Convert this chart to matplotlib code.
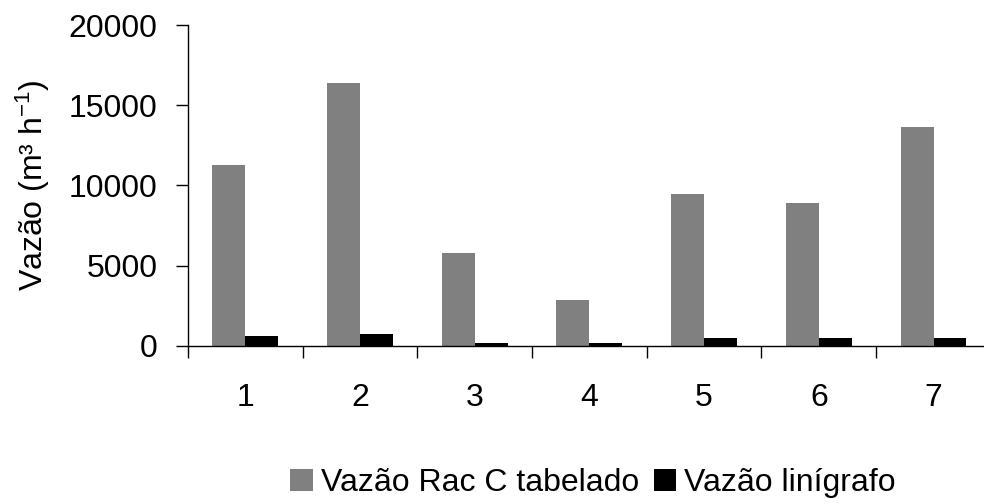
"""
Vazão Rac C tabelado x Vazão linígrafo por evento.
Gera out.png (984x504).
"""

import matplotlib
matplotlib.use("Agg")
import matplotlib.pyplot as plt
import numpy as np


# ============================================================
# DADOS
# ============================================================

EVENTOS = ["1", "2", "3", "4", "5", "6", "7"]

VAZAO_RAC_C = [11300, 16400, 5800, 2850, 9450, 8900, 13650]

VAZAO_LINIGRAFO = [620, 760, 190, 190, 470, 470, 470]

Y_TICKS = [0, 5000, 10000, 15000, 20000]


# ============================================================
# CONFIGURAÇÃO
# ============================================================

TAMANHO = 23

plt.rcParams["font.family"] = ["Liberation Sans", "DejaVu Sans"]
plt.rcParams["mathtext.fontset"] = "custom"
plt.rcParams["mathtext.rm"] = "Liberation Sans"
plt.rcParams["mathtext.it"] = "Liberation Sans:italic"
plt.rcParams["font.size"] = TAMANHO


def main() -> None:

    fig = plt.figure(figsize=(9.84, 5.04), dpi=100)

    ax = fig.add_axes([0.191, 0.314, 0.816, 0.636])

    x = np.arange(len(EVENTOS))
    largura = 0.287

    ax.bar(x - largura / 2, VAZAO_RAC_C, largura,
           color="#808080", label="Vazão Rac C tabelado")
    ax.bar(x + largura / 2, VAZAO_LINIGRAFO, largura,
           color="#000000", label="Vazão linígrafo")

    ax.set_xlim(-0.5, len(EVENTOS) - 0.5)
    ax.set_ylim(0, 20000)

    # eixo y
    ax.set_yticks(Y_TICKS)
    ax.tick_params(axis="y", direction="out", length=9, width=1,
                   pad=13, labelsize=TAMANHO)

    # eixo x: marcas entre categorias, rótulos no centro
    ax.set_xticks(np.arange(len(EVENTOS) + 1) - 0.5)
    ax.set_xticklabels([])
    ax.set_xticks(x, minor=True)
    ax.set_xticklabels(EVENTOS, minor=True)
    ax.tick_params(axis="x", which="major", direction="out",
                   length=8.5, width=1)
    ax.tick_params(axis="x", which="minor", length=0, pad=27,
                   labelsize=TAMANHO)

    for lado in ["top", "right"]:
        ax.spines[lado].set_visible(False)
    ax.spines["left"].set_linewidth(1)
    ax.spines["bottom"].set_linewidth(1)

    ax.set_ylabel("Vazão (m³ h$^{-1}$)", fontsize=TAMANHO)
    ax.yaxis.set_label_coords(-0.169, 0.5)

    fig.legend(loc="center", bbox_to_anchor=(593 / 984, 1 - 483 / 504),
               ncol=2, frameon=False, fontsize=TAMANHO,
               handlelength=0.7, handleheight=0.7, handletextpad=0.25,
               columnspacing=0.47, borderpad=0)

    fig.savefig("out.png", dpi=100)
    plt.close(fig)


if __name__ == "__main__":
    main()
